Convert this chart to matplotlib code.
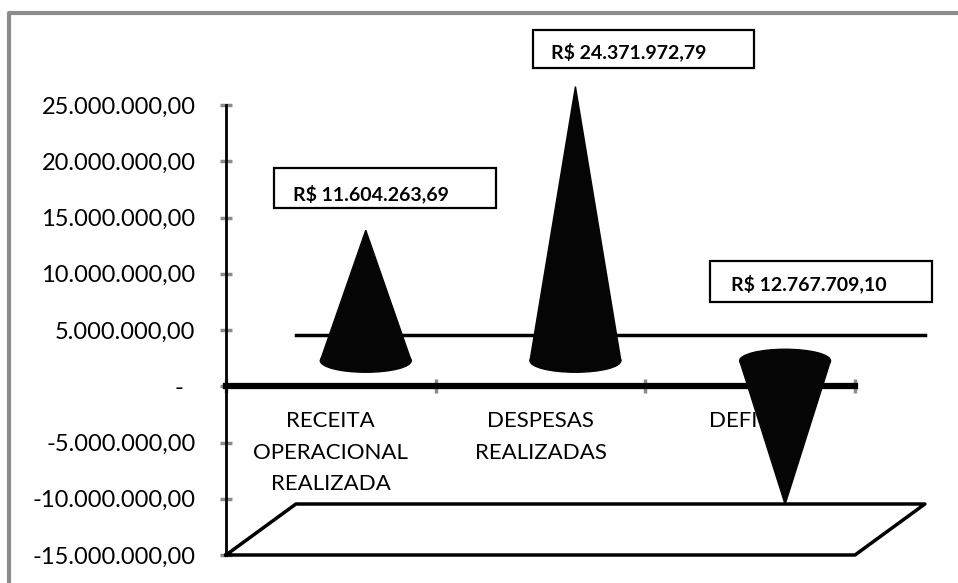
import matplotlib
matplotlib.use('Agg')
import matplotlib.pyplot as plt
from matplotlib.lines import Line2D
from matplotlib.patches import Ellipse, Polygon, Rectangle

plt.rcParams['font.family'] = ['Lato', 'DejaVu Sans']

categories = ['RECEITA\nOPERACIONAL\nREALIZADA', 'DESPESAS\nREALIZADAS', 'DEFICIT']
values = [11604263.69, 24371972.79, -12767709.10]
value_labels = ['R$ 11.604.263,69', 'R$ 24.371.972,79', 'R$ 12.767.709,10']
y_ticks = [25000000, 20000000, 15000000, 10000000, 5000000, 0, -5000000, -10000000, -15000000]
y_labels = ['25.000.000,00', '20.000.000,00', '15.000.000,00', '10.000.000,00', '5.000.000,00', '-  ',
            '-5.000.000,00', '-10.000.000,00', '-15.000.000,00']

W, H = 958, 583


def fx(px):
    return px / W


def fy(py):
    return 1 - py / H


fig = plt.figure(figsize=(W / 100, H / 100), dpi=100)
ax = fig.add_axes([fx(226), fy(555), (855 - 226) / W, (555 - 105) / H])
ax.set_xlim(0, 3)
ax.set_ylim(-15000000, 25000000)
ax.patch.set_visible(False)

# pseudo 3d depth, in data units
depth_x = 70 / 210
depth_y = 51 / 450 * 40000000
half_w = 45.5 / 210
half_h = 11.5 / 450 * 40000000

for s in ['top', 'right']:
    ax.spines[s].set_visible(False)
ax.spines['left'].set_linewidth(2)
ax.spines['bottom'].set_position(('data', 0))
ax.spines['bottom'].set_linewidth(4.5)
ax.spines['bottom'].set_zorder(3)

ax.set_yticks(y_ticks)
ax.set_yticklabels(y_labels, fontsize=17)
ax.tick_params(axis='y', color='#8c8c8c', width=2.5, length=8, direction='inout', pad=18)
ax.set_xticks([0, 1, 2, 3])
ax.set_xticklabels([])
ax.tick_params(axis='x', which='major', color='#8c8c8c', width=2.5, length=10, direction='inout')
ax.set_xticks([0.5, 1.5, 2.5], minor=True)
ax.set_xticklabels(categories, minor=True, fontsize=16, linespacing=1.72)
ax.tick_params(axis='x', which='minor', length=0, pad=18)

# floor and back wall zero line
ymin = ax.get_ylim()[0]
ax.plot([0, depth_x, 3 + depth_x, 3, 0], [ymin, ymin + depth_y, ymin + depth_y, ymin, ymin],
        color='black', lw=2.5, clip_on=False, zorder=2)
ax.plot([depth_x, 3 + depth_x], [depth_y, depth_y], color='black', lw=2.5, clip_on=False, zorder=2)

# cones
for i, v in enumerate(values):
    cx = i + 0.5 + depth_x / 2
    cy = depth_y / 2
    ax.add_patch(Polygon([(cx - half_w, cy), (cx + half_w, cy), (cx, cy + v)], closed=True,
                         color='#050505', clip_on=False, zorder=5))
    ax.add_patch(Ellipse((cx, cy), 2 * half_w, 2 * half_h, color='#050505', clip_on=False, zorder=5))

# value boxes
boxes = [(274, 168, 496, 208, 293, 194), (533, 30, 754, 68, 551, 52), (710, 261, 932, 302, 731, 284)]
for (x0, y0, x1, y1, tx, ty), lab in zip(boxes, value_labels):
    fig.add_artist(Rectangle((fx(x0), fy(y1)), (x1 - x0) / W, (y1 - y0) / H, transform=fig.transFigure,
                             facecolor='white', edgecolor='black', lw=1.6, zorder=6))
    fig.text(fx(tx), fy(ty), lab, fontsize=14, fontweight='bold', ha='left', va='center', zorder=7)

# outer border, only top and left are in view
fig.add_artist(Line2D([fx(9), fx(9), 1], [0, fy(13), fy(13)], color='#8c8c8c', lw=3))

fig.savefig('out.png', dpi=100)
